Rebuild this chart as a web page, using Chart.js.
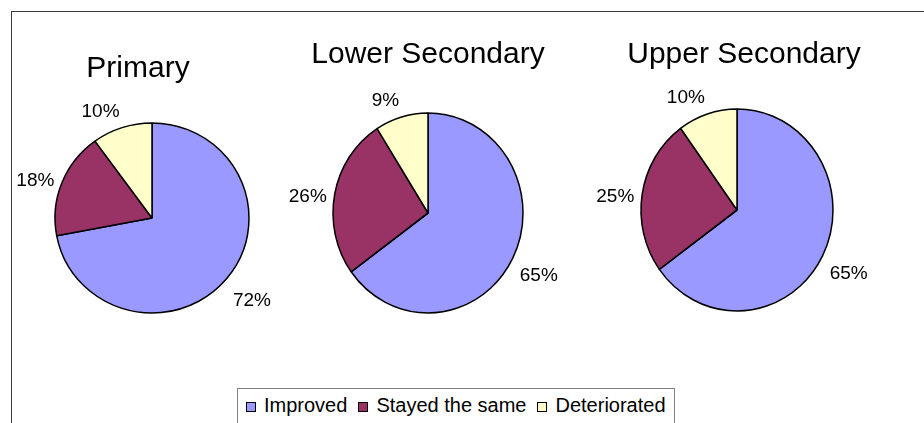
<!DOCTYPE html>
<html>
<head>
<meta charset="utf-8">
<script src="https://cdn.jsdelivr.net/npm/chart.js@4.4.1/dist/chart.umd.min.js"></script>
<style>
  html, body { margin: 0; padding: 0; background: #fff; }
  body { width: 924px; height: 423px; position: relative; overflow: hidden;
         font-family: "Liberation Sans", Arial, sans-serif; }
  #frame { position: absolute; left: 11px; top: 11px; width: 960px; height: 460px;
           border-top: 1.5px solid #3a3a3a; border-left: 1.5px solid #3a3a3a; }
  canvas.panel { position: absolute; left: 0; top: 0; }
  #legend { position: absolute; left: 237px; top: 388px; width: 438px; height: 60px;
            box-sizing: border-box; border: 1px solid #808080; background: #fff;
            padding: 6px 0 0 8px; white-space: nowrap; }
  #legend .item { display: inline-block; font-size: 20px; line-height: 20px;
                  color: #000; margin-right: 11px; }
  #legend .swatch { display: inline-block; width: 8px; height: 8px; border: 1px solid #000;
                    margin-right: 8px; position: relative; top: 0px; }
</style>
</head>
<body>
<div id="frame"></div>
<canvas id="pPrimary" class="panel" width="924" height="423"></canvas>
<canvas id="pLower" class="panel" width="924" height="423"></canvas>
<canvas id="pUpper" class="panel" width="924" height="423"></canvas>
<div id="legend"></div>

<script>
// Share of schools by change in condition, per education level (%)
const categories = ['Improved', 'Stayed the same', 'Deteriorated'];
const levels = ['Primary', 'Lower Secondary', 'Upper Secondary'];
const primaryShares = [72, 18, 10];
const lowerSecondaryShares = [65, 26, 9];
const upperSecondaryShares = [65, 25, 10];

const sliceColours = ['#9999FF', '#993366', '#FFFFCC'];

// Where each pie sits on the page (rx/ry: horizontal and vertical radius)
const panels = [
  { id: 'pPrimary', title: levels[0], data: primaryShares,        cx: 152, cy: 218, rx: 97, ry: 95,  titleX: 138, titleBase: 77 },
  { id: 'pLower',   title: levels[1], data: lowerSecondaryShares, cx: 428, cy: 213, rx: 95, ry: 100, titleX: 428, titleBase: 63 },
  { id: 'pUpper',   title: levels[2], data: upperSecondaryShares, cx: 737, cy: 210, rx: 96, ry: 101, titleX: 744, titleBase: 63 }
];

const PAGE_W = 924, PAGE_H = 423, BORDER = 1.5;
const FONT = '"Liberation Sans", Arial, sans-serif';
const CAP = 0.716; // cap height of the sans face, as a share of the font size

// Squashes/stretches the pie vertically, then writes the percentage labels and heading
const pieLabels = {
  id: 'pieLabels',
  beforeDatasetsDraw(chart, args, opts) {
    const ctx = chart.ctx;
    ctx.save();
    ctx.translate(opts.cx, opts.cy);
    ctx.scale(1, opts.ry / opts.rx);
    ctx.translate(-opts.cx, -opts.cy);
  },
  afterDatasetsDraw(chart, args, opts) {
    const ctx = chart.ctx;
    ctx.restore();
    const meta = chart.getDatasetMeta(0);
    const values = chart.data.datasets[0].data;
    ctx.save();
    ctx.fillStyle = '#000';
    ctx.font = opts.size + 'px ' + FONT;
    ctx.textAlign = 'center';
    ctx.textBaseline = 'alphabetic';
    meta.data.forEach((arc, i) => {
      const p = arc.getProps(['x', 'y', 'startAngle', 'endAngle', 'outerRadius'], true);
      const mid = (p.startAngle + p.endAngle) / 2;
      const c = Math.cos(mid), s = Math.sin(mid);
      const text = values[i] + '%';
      const w = ctx.measureText(text).width;
      const ry = p.outerRadius * opts.ry / opts.rx;
      const lx = p.x + c * (p.outerRadius + opts.gapX) + Math.sign(c) * w / 2;
      const ly = p.y + s * (ry + opts.gapY) + opts.shiftY;
      ctx.fillText(text, lx, ly + opts.size * CAP / 2);
    });
    ctx.font = opts.titleSize + 'px ' + FONT;
    ctx.fillText(opts.title, opts.titleX, opts.titleBase);
    ctx.restore();
  }
};

panels.forEach(pn => {
  const half = pn.rx + BORDER / 2;
  new Chart(document.getElementById(pn.id), {
    type: 'pie',
    data: {
      labels: categories,
      datasets: [{
        data: pn.data,
        backgroundColor: sliceColours,
        borderColor: '#000',
        borderWidth: BORDER,
        clip: false
      }]
    },
    options: {
      responsive: false,
      animation: false,
      events: [],
      layout: {
        padding: {
          left: pn.cx - half,
          right: PAGE_W - (pn.cx + half),
          top: pn.cy - half,
          bottom: PAGE_H - (pn.cy + half)
        }
      },
      plugins: {
        legend: { display: false },
        title: { display: false },
        tooltip: { enabled: false },
        pieLabels: {
          size: 19, gapX: 8, gapY: 24, shiftY: 5,
          cx: pn.cx, cy: pn.cy, rx: pn.rx, ry: pn.ry,
          title: pn.title, titleSize: 30, titleX: pn.titleX, titleBase: pn.titleBase
        }
      }
    },
    plugins: [pieLabels]
  });
});

// Shared key below the three pies
const legend = document.getElementById('legend');
categories.forEach((name, i) => {
  const item = document.createElement('span');
  item.className = 'item';
  const sw = document.createElement('span');
  sw.className = 'swatch';
  sw.style.background = sliceColours[i];
  item.appendChild(sw);
  item.appendChild(document.createTextNode(name));
  legend.appendChild(item);
});
</script>
</body>
</html>
